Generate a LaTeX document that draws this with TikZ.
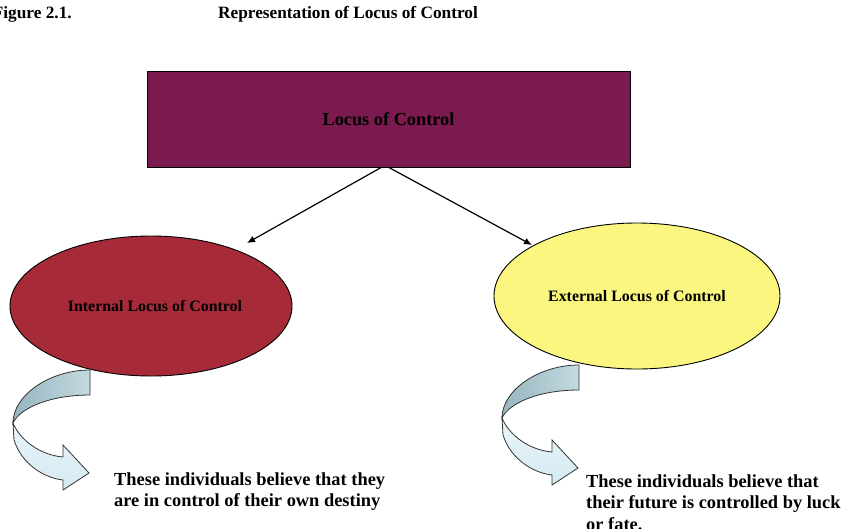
\documentclass[tikz,border=0pt]{standalone}
\usepackage{fontspec}
\setmainfont{Liberation Serif}
\usetikzlibrary{shapes.geometric,arrows.meta}

\definecolor{plum}{RGB}{122,26,78}
\definecolor{brick}{RGB}{166,42,56}
\definecolor{paleyellow}{RGB}{250,246,128}
\definecolor{banddark}{RGB}{150,182,192}
\definecolor{bandmid}{RGB}{196,218,224}
\definecolor{bandlight}{RGB}{232,245,249}
\definecolor{bandlow}{RGB}{212,234,241}

\tikzset{
  heading/.style={font=\fontsize{17.3}{20}\selectfont\bfseries, inner sep=0pt},
  mainbox/.style={draw=black, line width=0.9pt, fill=plum, minimum width=483pt,
    minimum height=96pt, inner sep=0pt, font=\fontsize{18.3}{21}\selectfont\bfseries},
  kindoval/.style={ellipse, draw=black, line width=0.9pt, inner sep=0pt,
    font=\fontsize{15.9}{19}\selectfont\bfseries},
  note/.style={align=left, inner sep=0pt, font=\fontsize{18.4}{21.5}\selectfont\bfseries},
  link/.style={line width=1.2pt, -{Latex[length=8pt,width=7pt]}},
  bandedge/.style={draw=black!80, line width=0.8pt},
  turnarrow/.pic={
    % upper, darker part of the turning band
    \path[bandedge, left color=banddark, right color=bandmid]
      (0,0) .. controls (-40,0) and (-77,25) .. (-77,53)
      .. controls (-70,38) and (-40,25) .. (0,25) -- cycle;
    % lower part of the band ending in the arrow head
    \path[bandedge, top color=bandlight, bottom color=bandlow]
      (-77,53) -- (-76,70) .. controls (-68,95) and (-45,108) .. (-27,110)
      -- (-27,120) -- (-1,103) -- (-27,75) -- (-27,87)
      .. controls (-50,85) and (-70,70) .. (-77,53) -- cycle;
  }
}

\begin{document}
\begin{tikzpicture}[x=1pt,y=-1pt]
  \useasboundingbox (0,0) rectangle (846,528);

  % caption line
  \node[heading, anchor=base east] (fig) at (72,18) {Figure 2.1.};
  \node[heading, anchor=base] (title) at (348,18) {Representation of Locus of Control};

  % concept and its two kinds
  \node[mainbox] (top) at (388.5,119) {Locus of Control};
  \node[kindoval, fill=brick, minimum width=282pt, minimum height=140pt] (internal)
    at (151,306) {\hspace*{8pt}Internal Locus of Control};
  \node[kindoval, fill=paleyellow, minimum width=286pt, minimum height=146pt] (external)
    at (637,296) {External Locus of Control};

  % connectors
  \coordinate (forkL) at (382,167);
  \coordinate (forkR) at (388,167);
  \coordinate (tipL) at (247,243);
  \coordinate (tipR) at (532,245);
  \draw[link] (forkL) -- (tipL);
  \draw[link] (forkR) -- (tipR);

  % turning arrows below each kind
  \pic at (90,370) {turnarrow};
  \pic at (579,365) {turnarrow};

  % descriptions (anchored on the baseline of their last line)
  \node[note, anchor=base west] (intnote) at (114,506.5)
    {These individuals believe that they\\are in control of their own destiny};
  \node[note, anchor=base west] (extnote) at (586,530)
    {These individuals believe that\\their future is controlled by luck\\or fate.};
\end{tikzpicture}
\end{document}
